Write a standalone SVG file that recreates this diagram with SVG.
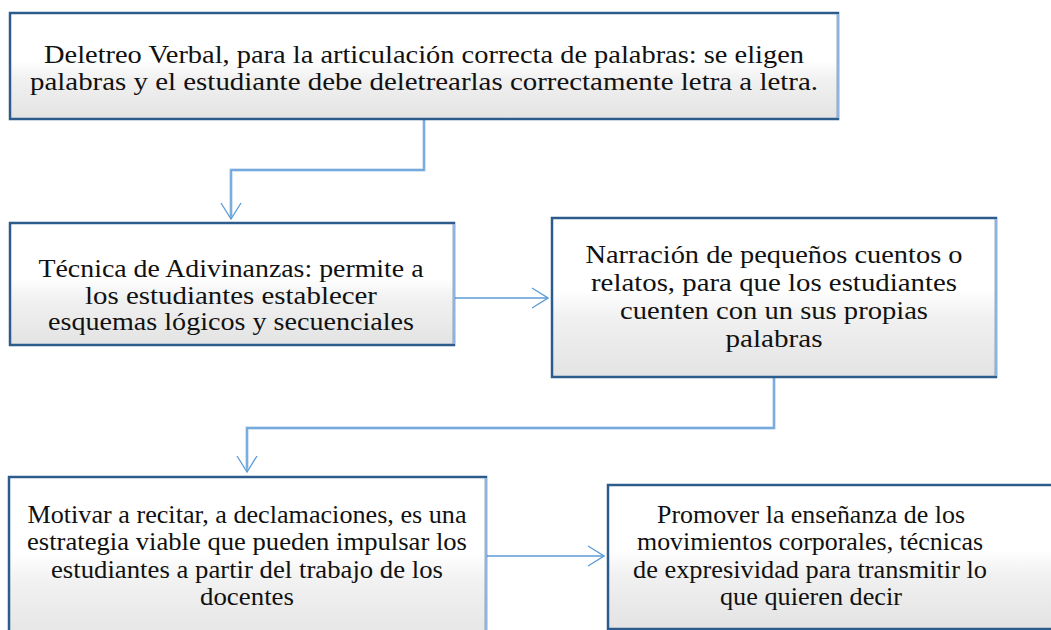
<svg xmlns="http://www.w3.org/2000/svg" width="1051" height="630" viewBox="0 0 1051 630">
<defs>
<linearGradient id="fill" x1="0" y1="0" x2="0" y2="1">
<stop offset="0" stop-color="#ffffff"/>
<stop offset="0.45" stop-color="#ffffff"/>
<stop offset="0.62" stop-color="#f1f1f1"/>
<stop offset="1" stop-color="#e3e3e3"/>
</linearGradient>
<marker id="arr" viewBox="0 0 18 22" refX="17" refY="11" markerWidth="18" markerHeight="22" markerUnits="userSpaceOnUse" orient="auto">
<path d="M1,1 L17,11 L1,21" fill="none" stroke="#5b9bd5" stroke-width="1.3"/>
</marker>
</defs>
<style>
.box{fill:url(#fill);stroke:#2d5c8c;stroke-width:2.5}
.edge{stroke:#8db3e2;stroke-width:2;fill:none}
.t{font-family:"Liberation Serif","Times New Roman",serif;font-size:24.5px;fill:#111;text-anchor:middle}
.c{fill:none;stroke:#5b9bd5;stroke-width:1.4}
.glow{fill:none;stroke:#c6dbf1;stroke-width:3.5}
</style>
<rect width="1051" height="630" fill="#ffffff"/>
<g id="connectors">
<path class="glow" d="M424,119 V170 H231 V216"/>
<path class="c" d="M424,119 V170 H231 V219" marker-end="url(#arr)"/>
<path class="c" d="M454,298 H548" marker-end="url(#arr)"/>
<path class="glow" d="M774,377 V428 H247 V468"/>
<path class="c" d="M774,377 V428 H247 V472" marker-end="url(#arr)"/>
<path class="c" d="M486,556 H604" marker-end="url(#arr)"/>
</g>
<g id="n1">
<rect class="box" x="10" y="13" width="828" height="106"/>
<line class="edge" x1="838" y1="14" x2="838" y2="118"/>
<text class="t" x="424" y="63" textLength="760" lengthAdjust="spacingAndGlyphs">Deletreo Verbal, para la articulación correcta de palabras: se eligen</text>
<text class="t" x="424" y="90" textLength="788" lengthAdjust="spacingAndGlyphs">palabras y el estudiante debe deletrearlas correctamente letra a letra.</text>
</g>
<g id="n2">
<rect class="box" x="10" y="223" width="444" height="122"/>
<line class="edge" x1="454" y1="224" x2="454" y2="344"/>
<text class="t" x="231" y="277" textLength="385" lengthAdjust="spacingAndGlyphs">Técnica de Adivinanzas: permite a</text>
<text class="t" x="231" y="303.5" textLength="292" lengthAdjust="spacingAndGlyphs">los estudiantes establecer</text>
<text class="t" x="231" y="330" textLength="366" lengthAdjust="spacingAndGlyphs">esquemas lógicos y secuenciales</text>
</g>
<g id="n3">
<rect class="box" x="552" y="218" width="444" height="159"/>
<line class="edge" x1="996" y1="219" x2="996" y2="376"/>
<text class="t" x="774" y="263" textLength="377" lengthAdjust="spacingAndGlyphs">Narración de pequeños cuentos o</text>
<text class="t" x="774" y="291" textLength="366" lengthAdjust="spacingAndGlyphs">relatos, para que los estudiantes</text>
<text class="t" x="774" y="319" textLength="308" lengthAdjust="spacingAndGlyphs">cuenten con un sus propias</text>
<text class="t" x="774" y="347" textLength="97" lengthAdjust="spacingAndGlyphs">palabras</text>
</g>
<g id="n4">
<rect class="box" x="9" y="477" width="477" height="170"/>
<line class="edge" x1="486" y1="478" x2="486" y2="646"/>
<text class="t" x="247" y="523" textLength="439" lengthAdjust="spacingAndGlyphs">Motivar a recitar, a declamaciones, es una</text>
<text class="t" x="247" y="550" textLength="440" lengthAdjust="spacingAndGlyphs">estrategia viable que pueden impulsar los</text>
<text class="t" x="247" y="578" textLength="392" lengthAdjust="spacingAndGlyphs">estudiantes a partir del trabajo de los</text>
<text class="t" x="247" y="605" textLength="94" lengthAdjust="spacingAndGlyphs">docentes</text>
</g>
<g id="n5">
<rect class="box" x="608" y="485" width="460" height="144"/>
<text class="t" x="811" y="523" textLength="308" lengthAdjust="spacingAndGlyphs">Promover la enseñanza de los</text>
<text class="t" x="810" y="550" textLength="346" lengthAdjust="spacingAndGlyphs">movimientos corporales, técnicas</text>
<text class="t" x="810" y="577.5" textLength="354" lengthAdjust="spacingAndGlyphs">de expresividad para transmitir lo</text>
<text class="t" x="811" y="604.5" textLength="182" lengthAdjust="spacingAndGlyphs">que quieren decir</text>
</g>
</svg>
